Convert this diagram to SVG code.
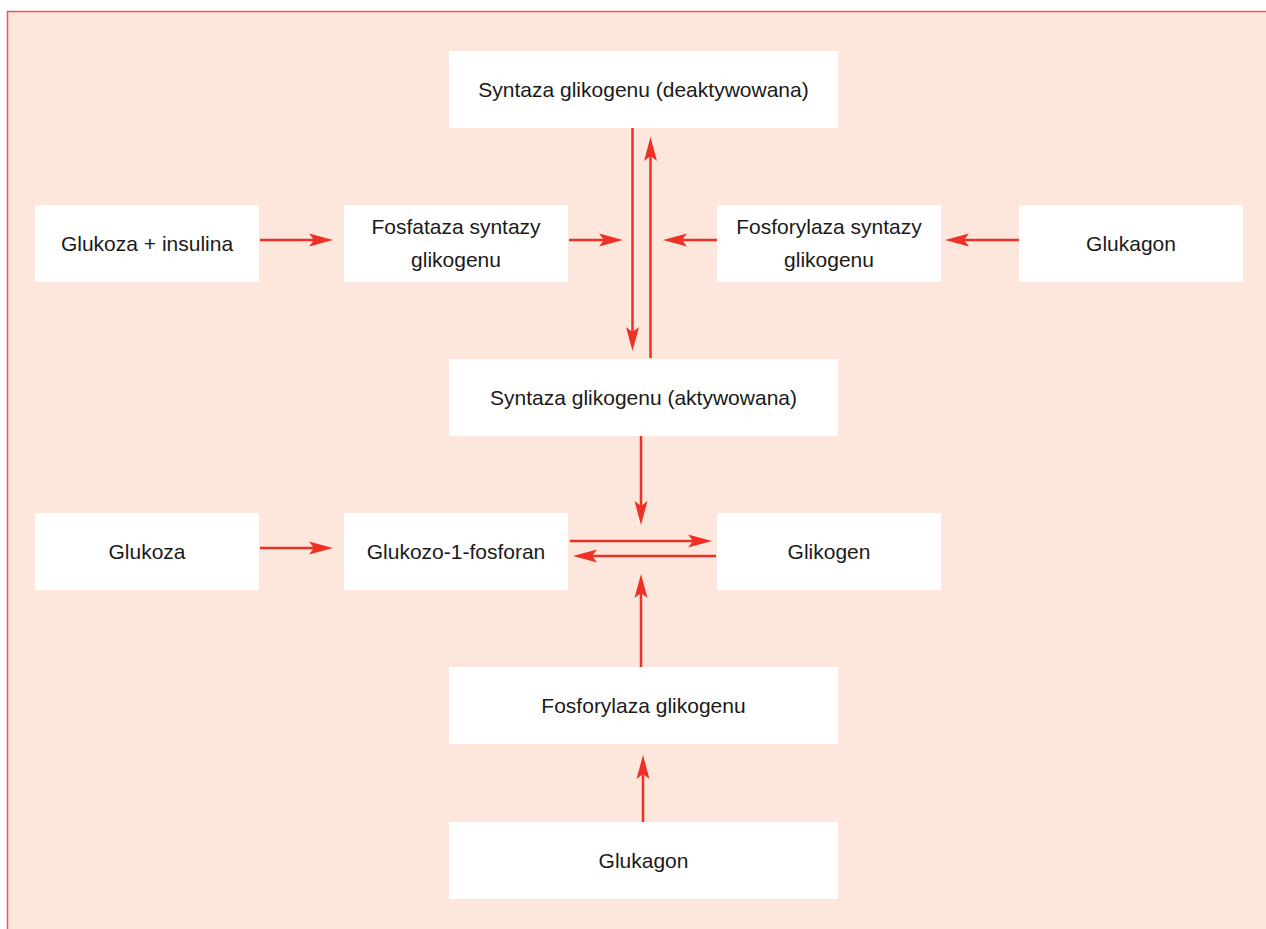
<svg xmlns="http://www.w3.org/2000/svg" width="1266" height="929" viewBox="0 0 1266 929">
<style>
.bg{fill:#FDE6DC;stroke:#F05548;stroke-width:1.5}
.box{fill:#FFFFFF}
.lbl{font-family:"Liberation Sans",Arial,sans-serif;font-size:21px;fill:#1A1A1A;text-anchor:middle}
.arr{stroke:#EE3124;stroke-width:2.5;fill:none;marker-end:url(#ah)}
</style>
<defs>
<marker id="ah" viewBox="-25 -7 26 14" refX="-17" refY="0" markerWidth="26" markerHeight="14" markerUnits="userSpaceOnUse" orient="auto">
<path d="M0,0 L-24,-6.5 L-19,0 L-24,6.5 Z" fill="#EE3124"/>
</marker>
</defs>
<rect class="bg" x="7.5" y="11.5" width="1270" height="930"/>

<g id="n-syntaza-deakt"><rect class="box" x="449" y="51" width="389" height="77"/><text class="lbl" x="643.5" y="97">Syntaza glikogenu (deaktywowana)</text></g>
<g id="n-glukoza-insulina"><rect class="box" x="35" y="205" width="224" height="77"/><text class="lbl" x="147" y="251">Glukoza + insulina</text></g>
<g id="n-fosfataza"><rect class="box" x="344" y="205" width="224" height="77"/><text class="lbl" x="456" y="234">Fosfataza syntazy</text><text class="lbl" x="456" y="267">glikogenu</text></g>
<g id="n-fosforylaza-syntazy"><rect class="box" x="717" y="205" width="224" height="77"/><text class="lbl" x="829" y="234">Fosforylaza syntazy</text><text class="lbl" x="829" y="267">glikogenu</text></g>
<g id="n-glukagon-1"><rect class="box" x="1019" y="205" width="224" height="77"/><text class="lbl" x="1131" y="251">Glukagon</text></g>
<g id="n-syntaza-akt"><rect class="box" x="449" y="359" width="389" height="77"/><text class="lbl" x="643.5" y="405">Syntaza glikogenu (aktywowana)</text></g>
<g id="n-glukoza"><rect class="box" x="35" y="513" width="224" height="77"/><text class="lbl" x="147" y="559">Glukoza</text></g>
<g id="n-g1p"><rect class="box" x="344" y="513" width="224" height="77"/><text class="lbl" x="456" y="559">Glukozo-1-fosforan</text></g>
<g id="n-glikogen"><rect class="box" x="717" y="513" width="224" height="77"/><text class="lbl" x="829" y="559">Glikogen</text></g>
<g id="n-fosforylaza-glikogenu"><rect class="box" x="449" y="667" width="389" height="77"/><text class="lbl" x="643.5" y="713">Fosforylaza glikogenu</text></g>
<g id="n-glukagon-2"><rect class="box" x="449" y="822" width="389" height="77"/><text class="lbl" x="643.5" y="868">Glukagon</text></g>

<g id="connectors">
<line class="arr" x1="260" y1="240" x2="316" y2="240"/>
<line class="arr" x1="569" y1="240" x2="606" y2="240"/>
<line class="arr" x1="717" y1="240" x2="680" y2="240"/>
<line class="arr" x1="1019" y1="240" x2="962" y2="240"/>
<line class="arr" x1="632.5" y1="128" x2="632.5" y2="334"/>
<line class="arr" x1="650.5" y1="358" x2="650.5" y2="154"/>
<line class="arr" x1="641" y1="436" x2="641" y2="508"/>
<line class="arr" x1="570" y1="541" x2="695" y2="541"/>
<line class="arr" x1="716" y1="556" x2="590" y2="556"/>
<line class="arr" x1="641" y1="667" x2="641" y2="591"/>
<line class="arr" x1="643" y1="822" x2="643" y2="772"/>
<line class="arr" x1="260" y1="548" x2="316" y2="548"/>
</g>
</svg>
